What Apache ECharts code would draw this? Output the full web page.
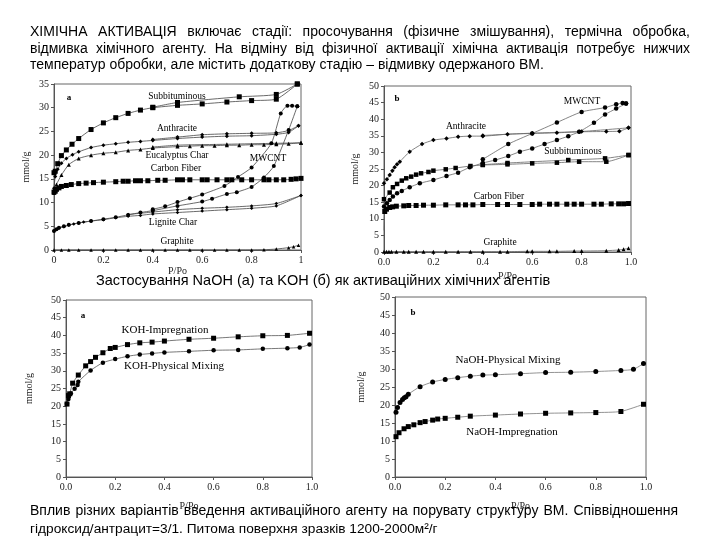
<!DOCTYPE html>
<html><head><meta charset="utf-8">
<script src="https://cdn.jsdelivr.net/npm/echarts/dist/echarts.min.js"></script>
</head>
<body style="margin:0;background:#fff">
<div id="c" style="width:720px;height:540px"></div>
<script>
// ---------- Text ----------
const topLines = [
  "ХІМІЧНА АКТИВАЦІЯ включає стадії: просочування (фізичне змішування), термічна обробка,",
  "відмивка хімічного агенту. На відміну від фізичної активації хімічна активація потребує нижчих",
  "температур обробки, але містить додаткову стадію – відмивку одержаного ВМ."
];
const midCaption = "Застосування NaOH (а) та KOH (б) як активаційних хімічних агентів";
const bottomLines = [
  "Вплив різних варіантів введення активаційного агенту на порувату структуру ВМ. Співвідношення",
  "гідроксид/антрацит=3/1. Питома поверхня зразків 1200-2000м²/г"
];
const xTicks01 = [0, 0.2, 0.4, 0.6, 0.8, 1];

// ---------- Panel 1 (a): various carbons ----------
const sub1Ads = [[0,16.3],[0.005,16.6],[0.015,18.2],[0.03,19.9],[0.05,21.1],[0.073,22.3],[0.1,23.5],[0.15,25.4],[0.2,26.8],[0.25,27.9],[0.3,28.8],[0.35,29.5],[0.4,30.0],[0.5,30.5],[0.6,30.8],[0.7,31.2],[0.8,31.5],[0.9,31.8],[0.985,35.0]];
const sub1Des = [[0.985,35.0],[0.9,32.8],[0.75,32.3],[0.5,31.1],[0.4,30.1]];
const anth1Ads = [[0,13.0],[0.005,15.5],[0.015,17.0],[0.03,18.3],[0.05,19.3],[0.075,20.1],[0.1,20.7],[0.15,21.6],[0.2,22.1],[0.25,22.4],[0.3,22.7],[0.35,22.9],[0.4,23.1],[0.5,23.5],[0.6,23.8],[0.7,24.0],[0.8,24.1],[0.9,24.4],[0.95,24.8],[0.99,26.2]];
const anth1Des = [[0.99,26.2],[0.95,25.2],[0.9,24.7],[0.8,24.6],[0.7,24.5],[0.6,24.3],[0.5,23.8],[0.4,23.3]];
const euc1Ads = [[0,12.0],[0.01,13.8],[0.03,15.8],[0.06,18.0],[0.1,19.3],[0.15,20.0],[0.2,20.4],[0.25,20.6],[0.3,21.0],[0.35,21.2],[0.4,21.5],[0.5,21.8],[0.55,21.9],[0.6,22.0],[0.65,22.0],[0.7,22.1],[0.75,22.1],[0.8,22.2],[0.85,22.2],[0.9,22.3],[0.95,22.4],[1.0,22.6]];
const euc1Des = [[1.0,22.6],[0.9,22.5],[0.7,22.3],[0.5,22.1],[0.4,21.7]];
const cf1 = [[0,12.2],[0.005,12.4],[0.01,12.8],[0.02,13.1],[0.03,13.4],[0.05,13.6],[0.07,13.8],[0.1,14.0],[0.13,14.1],[0.16,14.2],[0.2,14.3],[0.25,14.4],[0.28,14.5],[0.3,14.5],[0.33,14.6],[0.35,14.6],[0.38,14.6],[0.42,14.7],[0.45,14.7],[0.5,14.8],[0.52,14.8],[0.55,14.8],[0.6,14.8],[0.62,14.8],[0.66,14.8],[0.7,14.8],[0.72,14.8],[0.76,14.8],[0.8,14.8],[0.85,14.8],[0.87,14.8],[0.9,14.8],[0.93,14.8],[0.96,14.9],[0.98,15.0],[1.0,15.1]];
const mw1Ads = [[0,4.0],[0.01,4.4],[0.02,4.7],[0.04,5.0],[0.06,5.3],[0.1,5.7],[0.15,6.1],[0.2,6.5],[0.25,6.9],[0.3,7.4],[0.35,7.9],[0.4,8.3],[0.5,9.3],[0.6,10.2],[0.64,10.8],[0.7,11.8],[0.74,12.2],[0.8,13.3],[0.85,15.3],[0.89,17.7],[0.95,25.3],[0.985,30.3]];
const mw1Des = [[0.985,30.3],[0.964,30.4],[0.945,30.4],[0.918,28.8],[0.88,22.5],[0.8,17.4],[0.745,15.4],[0.69,13.5],[0.6,11.7],[0.55,10.9],[0.5,10.1],[0.45,9.2],[0.4,8.6]];
const lig1Ads = [[0,4.0],[0.01,4.3],[0.02,4.6],[0.04,4.9],[0.06,5.2],[0.08,5.5],[0.1,5.7],[0.12,5.9],[0.15,6.1],[0.2,6.4],[0.25,6.8],[0.3,7.1],[0.35,7.3],[0.4,7.6],[0.5,7.9],[0.6,8.2],[0.7,8.5],[0.8,8.8],[0.9,9.3],[1.0,11.5]];
const lig1Des = [[1.0,11.5],[0.9,9.8],[0.8,9.3],[0.7,9.0],[0.6,8.8],[0.5,8.5],[0.4,8.0],[0.3,7.5]];
const gr1 = [[0,0],[0.03,0],[0.06,0],[0.1,0],[0.15,0],[0.2,0],[0.25,0],[0.3,0],[0.35,0],[0.4,0],[0.45,0],[0.5,0],[0.55,0],[0.6,0],[0.65,0],[0.7,0],[0.75,0],[0.8,0],[0.85,0.05],[0.9,0.2],[0.95,0.5],[0.97,0.7],[0.99,1.0]];

// ---------- Panel 2 (b) ----------
const anth2Ads = [[0,20.7],[0.012,21.9],[0.023,23.2],[0.034,24.5],[0.043,25.5],[0.053,26.4],[0.064,27.2],[0.104,30.2],[0.154,32.5],[0.2,33.7],[0.253,34.2],[0.3,34.7],[0.347,34.9],[0.4,34.9],[0.5,35.5],[0.6,35.7],[0.7,35.9],[0.79,36.2],[0.9,36.3],[0.953,36.4],[0.99,37.4]];
const anth2Des = [[0.99,37.4],[0.8,36.3],[0.6,35.8],[0.4,35.1]];
const mw2Ads = [[0,13.7],[0.012,14.7],[0.023,15.7],[0.036,16.7],[0.053,17.7],[0.072,18.4],[0.104,19.5],[0.145,20.7],[0.2,21.7],[0.253,22.9],[0.3,23.9],[0.347,25.5],[0.4,26.8],[0.45,27.7],[0.503,28.9],[0.55,30.2],[0.6,31.2],[0.65,32.5],[0.7,33.7],[0.746,34.9],[0.79,36.2],[0.85,38.9],[0.895,41.4],[0.94,43.2],[0.98,44.7]];
const mw2Des = [[0.98,44.7],[0.966,44.9],[0.94,44.5],[0.895,43.5],[0.8,42.2],[0.7,39.0],[0.6,35.7],[0.503,32.5],[0.4,27.9]];
const sub2Ads = [[0,15.9],[0.023,17.9],[0.036,19.5],[0.053,20.5],[0.072,21.5],[0.09,22.2],[0.11,22.7],[0.13,23.3],[0.15,23.7],[0.18,24.1],[0.2,24.5],[0.25,24.9],[0.29,25.3],[0.35,25.9],[0.4,26.2],[0.5,26.4],[0.6,26.7],[0.7,26.9],[0.79,27.2],[0.9,27.2],[0.99,29.2]];
const sub2Des = [[0.99,29.2],[0.895,28.2],[0.746,27.7],[0.5,26.8],[0.4,26.3]];
const cf2 = [[0,6.5],[0.003,12.2],[0.01,12.9],[0.023,13.4],[0.035,13.6],[0.05,13.8],[0.08,13.9],[0.1,14.0],[0.13,14.0],[0.16,14.1],[0.2,14.1],[0.25,14.2],[0.3,14.2],[0.33,14.2],[0.36,14.2],[0.4,14.3],[0.46,14.3],[0.5,14.3],[0.55,14.3],[0.6,14.3],[0.63,14.4],[0.67,14.4],[0.7,14.4],[0.74,14.4],[0.77,14.4],[0.8,14.4],[0.85,14.4],[0.88,14.4],[0.92,14.5],[0.95,14.5],[0.97,14.5],[0.99,14.6]];
const gr2 = [[0,0.1],[0.01,0.1],[0.02,0.1],[0.03,0.1],[0.05,0.1],[0.08,0.1],[0.1,0.1],[0.13,0.1],[0.16,0.1],[0.2,0.1],[0.25,0.1],[0.3,0.1],[0.35,0.1],[0.4,0.1],[0.47,0.1],[0.5,0.1],[0.58,0.2],[0.6,0.2],[0.67,0.2],[0.7,0.2],[0.77,0.3],[0.8,0.3],[0.9,0.4],[0.95,0.6],[0.97,0.8],[0.99,1.1]];

// ---------- Panel 3 (a): KOH ----------
const kohImp = [[0.004,20.6],[0.01,23.0],[0.015,23.5],[0.027,26.5],[0.05,28.8],[0.08,31.4],[0.1,32.6],[0.12,33.8],[0.15,35.1],[0.18,36.3],[0.2,36.6],[0.25,37.4],[0.3,37.9],[0.35,38.1],[0.4,38.4],[0.5,38.9],[0.6,39.2],[0.7,39.6],[0.8,39.9],[0.9,40.0],[0.99,40.6]];
const kohMix = [[0.004,20.7],[0.01,22.0],[0.02,23.6],[0.035,24.9],[0.047,26.0],[0.05,26.9],[0.1,30.1],[0.15,32.3],[0.2,33.3],[0.25,34.1],[0.3,34.6],[0.35,34.9],[0.4,35.2],[0.5,35.5],[0.6,35.8],[0.7,35.9],[0.8,36.2],[0.9,36.4],[0.95,36.6],[0.99,37.4]];

// ---------- Panel 4 (b): NaOH ----------
const naohMix = [[0.004,18.0],[0.01,19.3],[0.02,20.7],[0.03,21.5],[0.037,22.0],[0.044,22.3],[0.053,23.0],[0.1,25.1],[0.15,26.4],[0.2,27.1],[0.25,27.6],[0.3,28.0],[0.35,28.3],[0.4,28.4],[0.5,28.7],[0.6,29.0],[0.7,29.1],[0.8,29.3],[0.9,29.6],[0.95,29.9],[0.99,31.5]];
const naohImp = [[0.004,11.2],[0.016,12.3],[0.036,13.4],[0.053,14.0],[0.075,14.5],[0.1,15.1],[0.12,15.4],[0.15,15.8],[0.17,16.1],[0.2,16.3],[0.25,16.6],[0.3,16.9],[0.4,17.2],[0.5,17.5],[0.6,17.7],[0.7,17.8],[0.8,17.9],[0.9,18.2],[0.99,20.2]];

// ---------- Build ----------
const SERIF = '"Liberation Serif","Times New Roman",serif';
const SANS = '"Liberation Sans",Arial,sans-serif';

function S(data, gi, sym, size, lineColor) {
  return {
    type: 'line', xAxisIndex: gi, yAxisIndex: gi, data: data,
    symbol: sym, symbolSize: size, showSymbol: true, smooth: 0.2,
    lineStyle: { color: lineColor || '#444', width: 0.8 },
    itemStyle: { color: '#000' }, silent: true, animation: false
  };
}

const grids = [
  { left: 54, top: 84, width: 247, height: 166 },
  { left: 384, top: 86, width: 247, height: 166 },
  { left: 66, top: 300, width: 246, height: 177 },
  { left: 395, top: 297, width: 251, height: 180 }
];
const yMax = [35, 50, 50, 50];
const yGap = [23, 24, 32, 29];
const xGap = [16, 19, 24, 24];

const cf2Items = cf2.map((p, i) => i === 0 ? { value: p, symbol: 'none' } : p);

const option = {
  backgroundColor: '#fff',
  animation: false,
  grid: grids.map(g => Object.assign({ show: true, borderColor: '#666', borderWidth: 1, backgroundColor: 'transparent' }, g)),
  xAxis: grids.map((g, i) => ({
    type: 'value', gridIndex: i, min: 0, max: 1, interval: 0.2,
    name: 'P/Po', nameLocation: 'middle', nameGap: xGap[i],
    nameTextStyle: { fontFamily: SERIF, fontSize: 10, color: '#222' },
    axisLine: { lineStyle: { color: '#555' } },
    axisTick: { length: 3, lineStyle: { color: '#555' } },
    splitLine: { show: false },
    axisLabel: { fontFamily: SERIF, fontSize: 10, color: '#222', margin: 5,
      formatter: v => i === 0 ? String(xTicks01.find(t => Math.abs(t - v) < 1e-6) ?? v) : v.toFixed(1) }
  })),
  yAxis: grids.map((g, i) => ({
    type: 'value', gridIndex: i, min: 0, max: yMax[i], interval: 5,
    name: 'mmol/g', nameLocation: 'middle', nameGap: yGap[i], nameRotate: 90,
    nameTextStyle: { fontFamily: SERIF, fontSize: 10, color: '#222' },
    axisLine: { show: true, lineStyle: { color: '#555' } },
    axisTick: { show: true, length: 3, lineStyle: { color: '#555' } },
    splitLine: { show: false },
    axisLabel: { fontFamily: SERIF, fontSize: 10, color: '#222', margin: 5 }
  })),
  series: [
    S(sub1Ads, 0, 'rect', 5), S(sub1Des, 0, 'rect', 5),
    S(anth1Ads, 0, 'diamond', 4), S(anth1Des, 0, 'diamond', 4),
    S(euc1Ads, 0, 'triangle', 4), S(euc1Des, 0, 'triangle', 4),
    S(cf1, 0, 'rect', 5),
    S(mw1Ads, 0, 'circle', 4), S(mw1Des, 0, 'circle', 4),
    S(lig1Ads, 0, 'diamond', 3.5), S(lig1Des, 0, 'diamond', 3.5),
    S(gr1, 0, 'triangle', 3.5),
    S(anth2Ads, 1, 'diamond', 4.5, '#666'), S(anth2Des, 1, 'diamond', 4.5, '#666'),
    S(mw2Ads, 1, 'circle', 4.5, '#666'), S(mw2Des, 1, 'circle', 4.5, '#666'),
    S(sub2Ads, 1, 'rect', 4.5, '#666'), S(sub2Des, 1, 'rect', 4.5, '#666'),
    S(cf2Items, 1, 'rect', 5, '#666'),
    S(gr2, 1, 'triangle', 4, '#666'),
    S(kohImp, 2, 'rect', 5, '#555'), S(kohMix, 2, 'circle', 4.5, '#555'),
    S(naohMix, 3, 'circle', 5, '#777'), S(naohImp, 3, 'rect', 5, '#777')
  ],
  graphic: []
};

function T(text, x, y, font, size, weight, align) {
  return { type: 'text', x: x, y: y, silent: true, z: 100,
    style: { text: text, fill: '#000', font: (weight || 'normal') + ' ' + size + 'px ' + font,
      textAlign: align || 'left', textVerticalAlign: 'middle' } };
}
// justified line: spaces become rich tokens whose width fills the target width
const measureCtx = document.createElement('canvas').getContext('2d');
function J(text, x, y, size, target) {
  const font = 'normal ' + size + 'px ' + SANS;
  measureCtx.font = font;
  const words = text.split(' ');
  const sum = words.reduce((a, w) => a + measureCtx.measureText(w).width, 0);
  const gap = Math.max(2, (target - sum) / (words.length - 1));
  return { type: 'text', x: x, y: y, silent: true, z: 100,
    style: { text: words.join('{s| }'), fill: '#000', font: font,
      textAlign: 'left', textVerticalAlign: 'middle',
      rich: { s: { width: gap, font: font } } } };
}
const G = option.graphic;
G.push(J(topLines[0], 30, 32, 14, 660));
G.push(J(topLines[1], 30, 49, 14, 660));
G.push(T(topLines[2], 30, 65, SANS, 14));
G.push(T(midCaption, 96, 281, SANS, 14.5));
G.push(J(bottomLines[0], 30, 511, 14, 648));
G.push(T(bottomLines[1], 30, 529, SANS, 13.7));
// panel annotations
G.push(T('a', 69, 98, SERIF, 9, 'bold', 'center'));
G.push(T('Subbituminous', 177, 96, SERIF, 9.5, 'normal', 'center'));
G.push(T('Anthracite', 177, 128, SERIF, 9.5, 'normal', 'center'));
G.push(T('Eucalyptus Char', 177, 155, SERIF, 9.5, 'normal', 'center'));
G.push(T('Carbon Fiber', 176, 168, SERIF, 9.5, 'normal', 'center'));
G.push(T('MWCNT', 268, 158, SERIF, 9.5, 'normal', 'center'));
G.push(T('Lignite Char', 173, 222, SERIF, 9.5, 'normal', 'center'));
G.push(T('Graphite', 177, 241, SERIF, 9.5, 'normal', 'center'));
G.push(T('b', 397, 99, SERIF, 9, 'bold', 'center'));
G.push(T('MWCNT', 582, 101, SERIF, 9.5, 'normal', 'center'));
G.push(T('Anthracite', 466, 126, SERIF, 9.5, 'normal', 'center'));
G.push(T('Subbituminous', 573, 151, SERIF, 9.5, 'normal', 'center'));
G.push(T('Carbon Fiber', 499, 196, SERIF, 9.5, 'normal', 'center'));
G.push(T('Graphite', 500, 242, SERIF, 9.5, 'normal', 'center'));
G.push(T('a', 83, 316, SERIF, 9, 'bold', 'center'));
G.push(T('KOH-Impregnation', 165, 330, SERIF, 11, 'normal', 'center'));
G.push(T('KOH-Physical Mixing', 174, 366, SERIF, 11, 'normal', 'center'));
G.push(T('b', 413, 313, SERIF, 9, 'bold', 'center'));
G.push(T('NaOH-Physical Mixing', 508, 360, SERIF, 11, 'normal', 'center'));
G.push(T('NaOH-Impregnation', 512, 432, SERIF, 11, 'normal', 'center'));

const chart = echarts.init(document.getElementById('c'), null, { renderer: 'canvas' });
chart.setOption(option);
</script>
</body></html>
